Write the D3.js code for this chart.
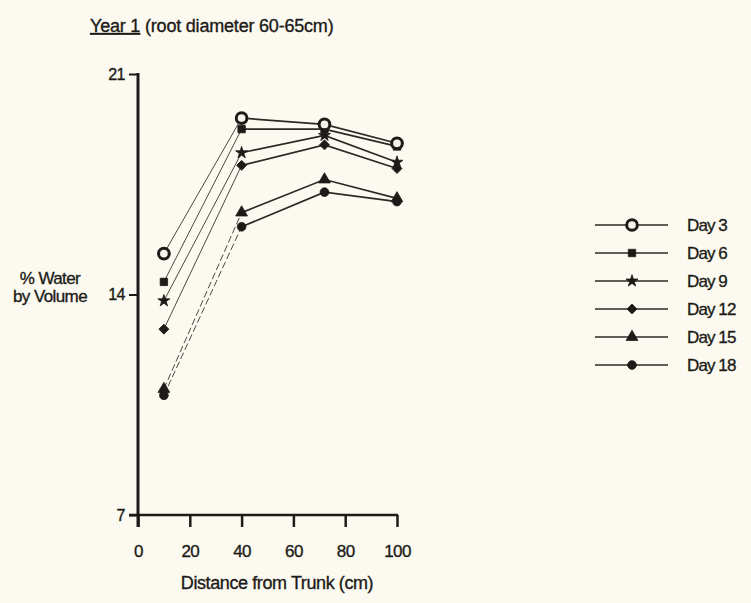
<!DOCTYPE html>
<html lang="en">
<head>
    <meta charset="UTF-8">
    <title>Year 1 - % Water by Volume</title>
    <style>
        body {
            margin: 0;
            padding: 0;
            background-color: #fcfaf0;
        }
        svg {
            display: block;
            font-family: "Liberation Sans", Arial, sans-serif;
        }
        svg text {
            stroke: #1c1b18;
            stroke-width: 0.35px;
        }
    </style>
    <script src="https://d3js.org/d3.v7.min.js"></script>
</head>
<body>
    <script>
        // data
        const distances = [10, 40, 72, 100];
        const dayLabels = ["Day 3", "Day 6", "Day 9", "Day 12", "Day 15", "Day 18"];
        const day3  = [15.3, 19.6, 19.4, 18.8];
        const day6  = [14.4, 19.25, 19.25, 18.7];
        const day9  = [13.8, 18.5, 19.05, 18.2];
        const day12 = [12.9, 18.1, 18.75, 18.0];
        const day15 = [11.0, 16.6, 17.65, 17.05];
        const day18 = [10.8, 16.15, 17.25, 16.95];
        const xTicks = [0, 20, 40, 60, 80, 100];
        const yTicks = [7, 14, 21];

        const width = 751;
        const height = 603;
        const ink = "#1c1b18";

        const svg = d3.select("body").append("svg")
            .attr("width", width)
            .attr("height", height);

        svg.append("rect")
            .attr("width", width)
            .attr("height", height)
            .attr("fill", "#fcfaf0");

        const x = d3.scaleLinear().domain([0, 100]).range([138, 397]);
        const y = d3.scaleLinear().domain([7, 21]).range([515, 74]);

        // x axis
        const xAxis = svg.append("g")
            .attr("transform", "translate(0," + y(7) + ")")
            .call(d3.axisBottom(x).tickValues(xTicks).tickSize(12).tickPadding(18));
        xAxis.select(".domain").remove();
        xAxis.selectAll(".tick line").attr("stroke", ink).attr("stroke-width", 2.5);
        xAxis.selectAll(".tick text")
            .attr("fill", ink)
            .attr("font-size", 17)
            .attr("letter-spacing", "-0.6px")
            .attr("font-family", "'Liberation Sans', Arial, sans-serif");
        svg.append("line")
            .attr("x1", x(0) - 9).attr("x2", x(100) + 1)
            .attr("y1", y(7)).attr("y2", y(7))
            .attr("stroke", ink).attr("stroke-width", 2.5);

        // y axis
        const yAxis = svg.append("g")
            .attr("transform", "translate(" + x(0) + ",0)")
            .call(d3.axisLeft(y).tickValues(yTicks).tickSize(9).tickPadding(4));
        yAxis.select(".domain").remove();
        yAxis.selectAll(".tick line").attr("stroke", ink).attr("stroke-width", 2);
        yAxis.selectAll(".tick text")
            .attr("fill", ink)
            .attr("font-size", 16)
            .attr("letter-spacing", "-0.5px")
            .attr("font-family", "'Liberation Sans', Arial, sans-serif");
        svg.append("line")
            .attr("x1", x(0)).attr("x2", x(0))
            .attr("y1", y(21) - 1).attr("y2", y(7) + 12)
            .attr("stroke", ink).attr("stroke-width", 3);

        // series
        const series = [day3, day6, day9, day12, day15, day18].map((vals, i) => ({
            name: dayLabels[i],
            points: vals.map((v, j) => ({ d: distances[j], v: v }))
        }));

        const symbols = [
            { type: d3.symbolCircle, size: 90, open: true },
            { type: d3.symbolSquare, size: 55 },
            { type: d3.symbolStar, size: 45 },
            { type: d3.symbolSquare, size: 50, rotate: 45 },
            { type: d3.symbolTriangle, size: 60 },
            { type: d3.symbolCircle, size: 60 }
        ];

        const line = d3.line().x(p => x(p.d)).y(p => y(p.v));

        const lines = svg.append("g");
        series.forEach((s, i) => {
            // first segment is faint and broken in the scan
            lines.append("path")
                .attr("d", line(s.points.slice(0, 2)))
                .attr("fill", "none")
                .attr("stroke", "#4a4843")
                .attr("stroke-width", 1)
                .attr("stroke-dasharray", i >= 4 ? "7,3" : null);
            lines.append("path")
                .attr("d", line(s.points.slice(1)))
                .attr("fill", "none")
                .attr("stroke", "#2a2925")
                .attr("stroke-width", 1.7);
        });

        function drawSymbol(g, k) {
            const sym = symbols[k];
            g.append("path")
                .attr("d", d3.symbol().type(sym.type).size(sym.size)())
                .attr("transform", sym.rotate ? "rotate(" + sym.rotate + ")" : null)
                .attr("fill", sym.open ? "#f6f4ea" : ink)
                .attr("stroke", ink)
                .attr("stroke-width", sym.open ? 3 : 0.8);
        }

        // draw bottom series first so the open circles sit on top
        for (let i = series.length - 1; i >= 0; i--) {
            series[i].points.forEach(p => {
                const g = svg.append("g")
                    .attr("transform", "translate(" + x(p.d) + "," + y(p.v) + ")");
                drawSymbol(g, i);
            });
        }

        // legend
        const legend = svg.append("g");
        dayLabels.forEach((name, i) => {
            const ly = 225 + i * 28;
            legend.append("line")
                .attr("x1", 595).attr("x2", 668)
                .attr("y1", ly).attr("y2", ly)
                .attr("stroke", "#2a2925").attr("stroke-width", 1.3);
            const g = legend.append("g").attr("transform", "translate(632," + ly + ")");
            drawSymbol(g, i);
            legend.append("text")
                .attr("x", 687).attr("y", ly + 6)
                .attr("font-size", 17)
                .attr("letter-spacing", "-0.9px")
                .attr("fill", ink)
                .text(name);
        });

        // titles
        const title = svg.append("text")
            .attr("x", 90).attr("y", 32)
            .attr("font-size", 18)
            .attr("letter-spacing", "-0.2px")
            .attr("fill", ink);
        title.append("tspan").attr("text-decoration", "underline").text("Year 1");
        title.append("tspan").text(" (root diameter 60-65cm)");

        svg.append("text")
            .attr("x", 50).attr("y", 284)
            .attr("text-anchor", "middle")
            .attr("font-size", 17)
            .attr("letter-spacing", "-0.6px")
            .attr("fill", ink)
            .text("% Water");
        svg.append("text")
            .attr("x", 50).attr("y", 302)
            .attr("text-anchor", "middle")
            .attr("font-size", 17)
            .attr("letter-spacing", "-0.6px")
            .attr("fill", ink)
            .text("by Volume");

        svg.append("text")
            .attr("x", 277).attr("y", 589)
            .attr("text-anchor", "middle")
            .attr("font-size", 18)
            .attr("letter-spacing", "-0.4px")
            .attr("fill", ink)
            .text("Distance from Trunk (cm)");
    </script>
</body>
</html>
